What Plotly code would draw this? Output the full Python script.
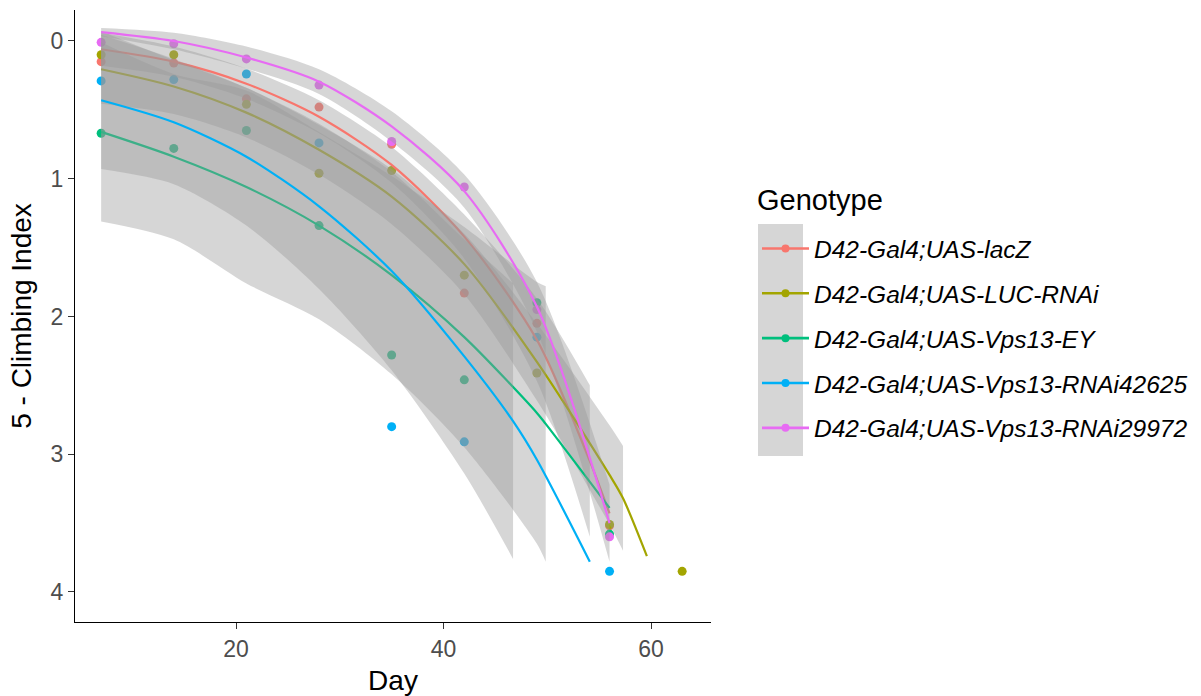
import plotly.graph_objects as go

# ---------------- data ----------------
genotypes = [
    "D42-Gal4;UAS-lacZ",
    "D42-Gal4;UAS-LUC-RNAi",
    "D42-Gal4;UAS-Vps13-EY",
    "D42-Gal4;UAS-Vps13-RNAi42625",
    "D42-Gal4;UAS-Vps13-RNAi29972",
]
colors = ["#F8766D", "#A3A500", "#00BF7D", "#00B0F6", "#E76BF3"]

# observed points: 5 - climbing index
lacz_days = [7, 14, 21, 28, 35, 42, 49, 56]
lacz_vals = [0.15, 0.16, 0.42, 0.48, 0.75, 1.83, 2.05, 3.52]
luc_days = [7, 14, 21, 28, 35, 42, 49, 56, 63]
luc_vals = [0.10, 0.10, 0.46, 0.96, 0.94, 1.70, 2.41, 3.51, 3.85]
ey_days = [7, 14, 21, 28, 35, 42, 49, 56]
ey_vals = [0.67, 0.78, 0.65, 1.34, 2.28, 2.46, 1.90, 3.58]
r42_days = [7, 14, 21, 28, 35, 42, 49, 56]
r42_vals = [0.29, 0.28, 0.24, 0.74, 2.80, 2.91, 2.15, 3.85]
r29_days = [7, 14, 21, 28, 35, 42, 49, 56]
r29_vals = [0.01, 0.02, 0.13, 0.32, 0.73, 1.06, 1.95, 3.60]

# smoothed fit (geom_smooth)
lacz_fit_days = [7, 14, 21, 28, 35, 42, 49, 54.1, 56]
lacz_fit = [0.06, 0.15, 0.31, 0.55, 0.90, 1.42, 2.17, 3.05, 3.43]
luc_fit_days = [7, 14, 21, 28, 35, 42, 49, 56, 57.3, 59.6]
luc_fit = [0.205, 0.33, 0.52, 0.79, 1.13, 1.62, 2.33, 3.15, 3.32, 3.74]
ey_fit_days = [7, 14, 21, 28, 35, 42, 49, 49.85, 56]
ey_fit = [0.66, 0.84, 1.06, 1.34, 1.70, 2.15, 2.70, 2.78, 3.39]
r42_fit_days = [7, 14, 21, 28, 35, 42, 46.7, 49, 54.1]
r42_fit = [0.43, 0.59, 0.84, 1.20, 1.67, 2.29, 2.76, 3.04, 3.78]
r29_fit_days = [7, 14, 21, 28, 35, 42, 49, 56]
r29_fit = [-0.065, 0.0, 0.12, 0.295, 0.62, 1.09, 1.93, 3.50]

# confidence band half-widths (first n fit days; the band stops at the last one)
lacz_half = [0.12, 0.11, 0.11, 0.12, 0.13, 0.16, 0.30, 0.55]
luc_half = [0.25, 0.20, 0.18, 0.18, 0.20, 0.22, 0.28, 0.36, 0.38]
ey_half = [0.65, 0.60, 0.70, 0.68, 0.72, 0.80, 0.95, 1.00]
r42_half = [0.50, 0.45, 0.50, 0.60, 0.72, 0.85, 1.00]
r29_half = [0.03, 0.06, 0.08, 0.09, 0.11, 0.12, 0.18, 0.28]

x_ticks = [20, 40, 60]
y_ticks = [0, 1, 2, 3, 4]

points = [(lacz_days, lacz_vals), (luc_days, luc_vals), (ey_days, ey_vals),
          (r42_days, r42_vals), (r29_days, r29_vals)]
fits = [(lacz_fit_days, lacz_fit, lacz_half), (luc_fit_days, luc_fit, luc_half),
        (ey_fit_days, ey_fit, ey_half), (r42_fit_days, r42_fit, r42_half),
        (r29_fit_days, r29_fit, r29_half)]

FONT = "Liberation Sans, Arial, sans-serif"
fig = go.Figure()

# points first (ribbons are drawn over them, as in ggplot)
for (dx, dy), col in zip(points, colors):
    fig.add_trace(go.Scatter(x=dx, y=dy, mode="markers",
                             marker=dict(color=col, size=9),
                             showlegend=False, hoverinfo="skip"))

# ribbon + line per group
for (fd, fv, hw), col in zip(fits, colors):
    n = len(hw)
    bd = fd[:n]
    lo = [fv[i] - hw[i] for i in range(n)]
    hi = [fv[i] + hw[i] for i in range(n)]
    fig.add_trace(go.Scatter(x=bd, y=lo, mode="lines",
                             line=dict(width=0, shape="spline", smoothing=0.8),
                             showlegend=False, hoverinfo="skip"))
    fig.add_trace(go.Scatter(x=bd, y=hi, mode="lines", fill="tonexty",
                             fillcolor="rgba(153,153,153,0.4)",
                             line=dict(width=0, shape="spline", smoothing=0.8),
                             showlegend=False, hoverinfo="skip"))
    fig.add_trace(go.Scatter(x=fd, y=fv, mode="lines",
                             line=dict(color=col, width=2.2, shape="spline", smoothing=0.8),
                             showlegend=False, hoverinfo="skip"))

# legend entries
for g, col in zip(genotypes, colors):
    fig.add_trace(go.Scatter(x=[None], y=[None], mode="lines+markers",
                             name="<i>" + g + "</i>", legendgroup=g,
                             line=dict(color=col, width=2.6),
                             marker=dict(color=col, size=8)))

L, R, T, B = 75, 490, 10, 74
W, H = 1201, 696
pw, ph = W - L - R, H - T - B

def px_to_paper_x(px):
    return (px - L) / pw

def px_to_paper_y(py):
    return (H - B - py) / ph

fig.add_shape(type="rect", xref="paper", yref="paper",
              x0=px_to_paper_x(758), x1=px_to_paper_x(803),
              y0=px_to_paper_y(456), y1=px_to_paper_y(224),
              fillcolor="#D6D6D6", line=dict(width=0), layer="below")

fig.add_annotation(text="Genotype", xref="paper", yref="paper",
                   x=px_to_paper_x(755), y=px_to_paper_y(200),
                   xanchor="left", yanchor="middle", showarrow=False,
                   font=dict(size=29, family=FONT, color="black"))

fig.update_layout(
    width=W, height=H,
    margin=dict(l=L, r=R, t=T, b=B, autoexpand=False),
    paper_bgcolor="white", plot_bgcolor="white",
    font=dict(family=FONT, color="black"),
    showlegend=True,
    legend=dict(
        x=px_to_paper_x(757), xanchor="left",
        y=px_to_paper_y(226), yanchor="top",
        font=dict(size=24.5, family=FONT, color="black"),
        tracegroupgap=10, itemwidth=47,
        bgcolor="rgba(0,0,0,0)",
    ),
    xaxis=dict(
        range=[4.48, 65.78], tickvals=x_ticks, ticktext=[str(t) for t in x_ticks],
        showgrid=False, zeroline=False, showline=True, linecolor="black", linewidth=1.2,
        ticks="outside", ticklen=6, tickcolor="#333333", tickwidth=1.2,
        tickfont=dict(size=23, color="#4D4D4D", family=FONT), automargin=False,
        title=dict(text="Day", font=dict(size=28, family=FONT, color="black"), standoff=12),
    ),
    yaxis=dict(
        range=[4.218, -0.225], tickvals=y_ticks, ticktext=[str(t) for t in y_ticks],
        showgrid=False, zeroline=False, showline=True, linecolor="black", linewidth=1.2,
        ticks="outside", ticklen=6, tickcolor="#333333", tickwidth=1.2,
        tickfont=dict(size=23, color="#4D4D4D", family=FONT), automargin=False,
        title=dict(text="5 - Climbing Index", font=dict(size=28, family=FONT, color="black"), standoff=10),
    ),
)

fig.write_html("out.html")
